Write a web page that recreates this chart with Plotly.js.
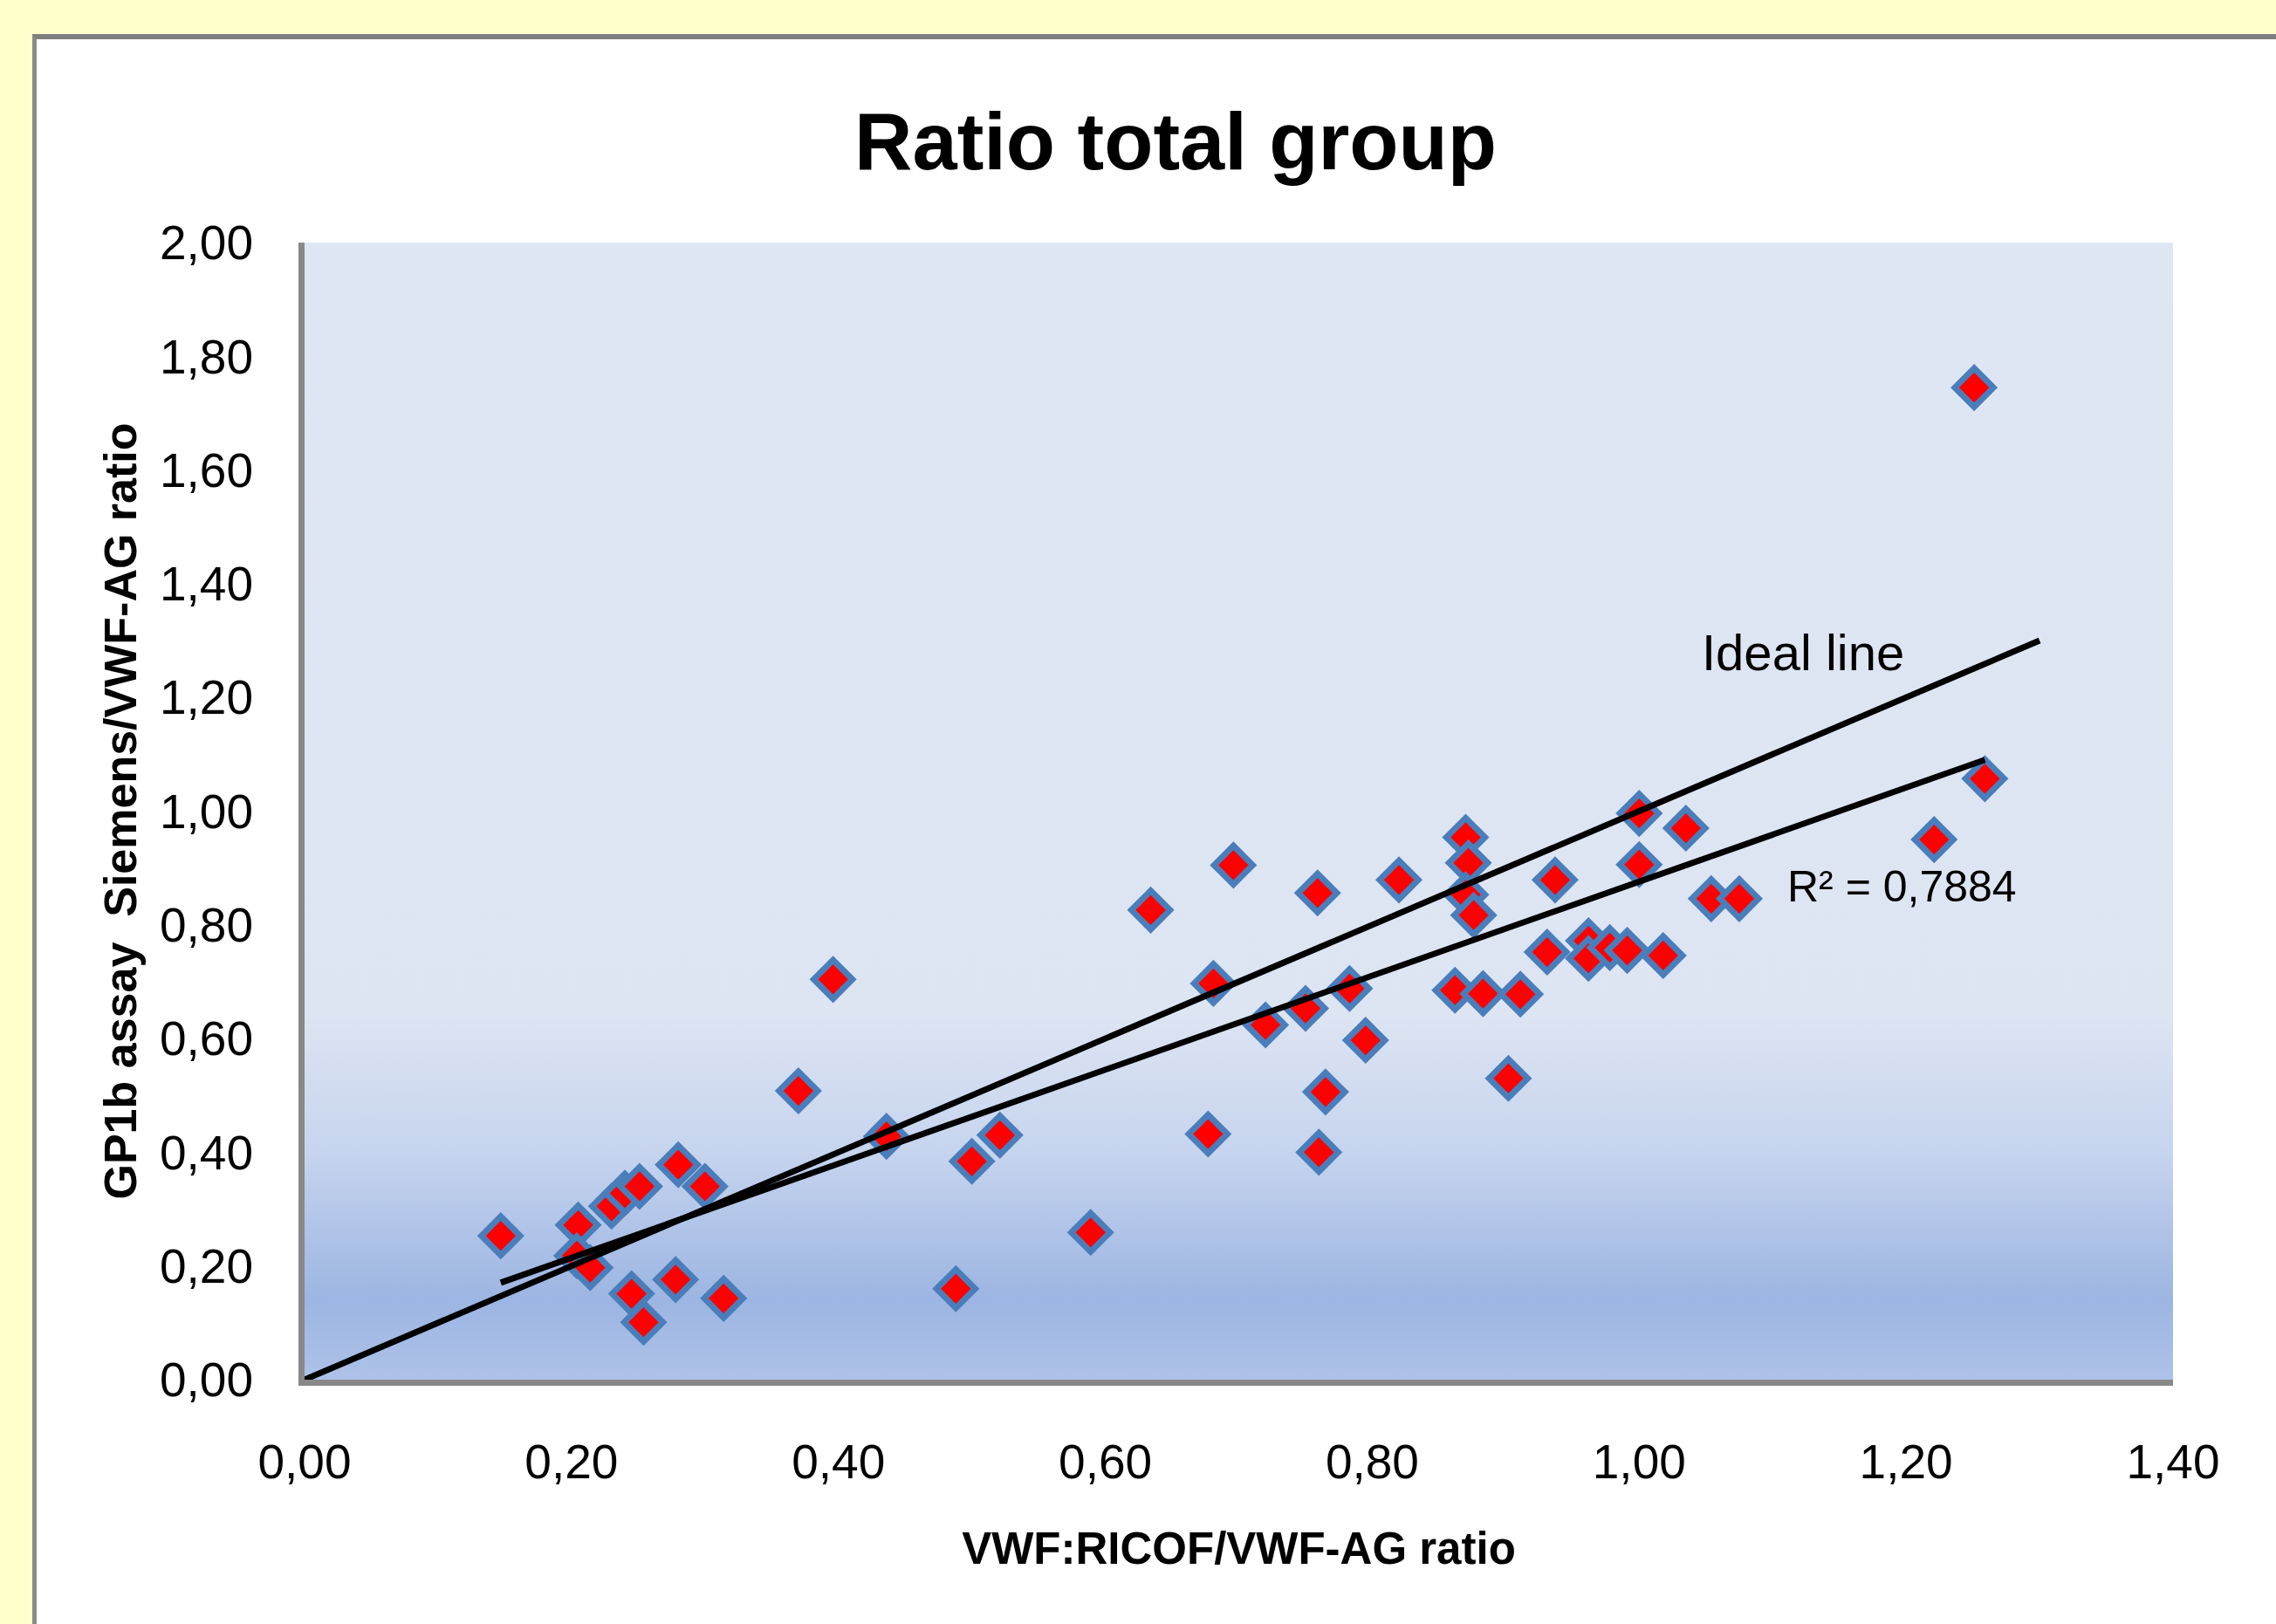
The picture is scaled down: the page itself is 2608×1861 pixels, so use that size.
<!DOCTYPE html>
<html>
<head>
<meta charset="utf-8">
<script src="https://cdn.plot.ly/plotly-3.0.1.min.js"></script>
<style>
  html, body { margin: 0; padding: 0; background: #FFFFCC; width: 2608px; height: 1861px; overflow: hidden; }
  #frame { position: absolute; left: 37px; top: 39px; width: 2566px; height: 1816px; background: #ffffff;
           border-top: 6px solid #7f7f7f; border-left: 5px solid #8a8a8a; }
  #chart { width: 2566px; height: 1816px; }
</style>
</head>
<body>
<div id="frame"><div id="chart"></div></div>
<script>
// ---- Data ----
const ricofRatio = [
  0.147, 0.205, 0.204, 0.214, 0.230, 0.240, 0.251, 0.280, 0.300, 0.245,
  0.254, 0.278, 0.314, 0.370, 0.396, 0.436, 0.488, 0.500, 0.521, 0.589,
  0.634, 0.677, 0.681, 0.696, 0.720, 0.750, 0.759, 0.760, 0.765, 0.783,
  0.795, 0.820, 0.862, 0.870, 0.872, 0.870, 0.876, 0.883, 0.902, 0.911,
  0.931, 0.937, 0.962, 0.962, 0.978, 0.991, 1.000, 1.000, 1.018, 1.035,
  1.054, 1.075, 1.221, 1.251, 1.259
];
const gp1bRatio = [
  0.253, 0.272, 0.218, 0.197, 0.305, 0.328, 0.340, 0.378, 0.340, 0.151,
  0.101, 0.176, 0.143, 0.508, 0.704, 0.428, 0.160, 0.384, 0.430, 0.259,
  0.826, 0.432, 0.697, 0.905, 0.624, 0.653, 0.856, 0.400, 0.506, 0.688,
  0.597, 0.879, 0.685, 0.954, 0.909, 0.853, 0.817, 0.679, 0.530, 0.678,
  0.752, 0.879, 0.772, 0.741, 0.760, 0.755, 0.996, 0.906, 0.746, 0.970,
  0.846, 0.846, 0.950, 1.745, 1.057
];
// Linear trendline as shown in the picture (y = a*x + b), R² label
const trendSlope = 0.827;
const trendIntercept = 0.049;
const rSquaredLabel = "R² = 0,7884";
// Ideal line y = x
const idealLineX = [0, 1.30];
const idealLabel = "Ideal line";
// Axis ticks
const xTickVals = [0, 0.2, 0.4, 0.6, 0.8, 1.0, 1.2, 1.4];
const xTickText = ["0,00", "0,20", "0,40", "0,60", "0,80", "1,00", "1,20", "1,40"];
const yTickVals = [0, 0.2, 0.4, 0.6, 0.8, 1.0, 1.2, 1.4, 1.6, 1.8, 2.0];
const yTickText = ["0,00", "0,20", "0,40", "0,60", "0,80", "1,00", "1,20", "1,40", "1,60", "1,80", "2,00"];
const chartTitle = "Ratio total group";
const xTitle = "VWF:RICOF/VWF-AG ratio";
const yTitle = "GP1b assay  Siemens/VWF-AG ratio";

// ---- Derived traces ----
const xMin = Math.min(...ricofRatio);
const xMax = Math.max(...ricofRatio);
const trendX = [xMin, xMax];
const trendY = trendX.map(v => trendSlope * v + trendIntercept);
const idealY = idealLineX.slice();

const font = "Liberation Sans, Arial, sans-serif";

const traces = [
  {
    x: ricofRatio, y: gp1bRatio, type: "scatter", mode: "markers",
    marker: { symbol: "diamond", size: 34, color: "#FF0000", line: { color: "#4A7EBB", width: 7 } },
    showlegend: false, hoverinfo: "x+y"
  },
  {
    x: trendX, y: trendY, type: "scatter", mode: "lines",
    line: { color: "#000000", width: 7 }, showlegend: false
  },
  {
    x: idealLineX, y: idealY, type: "scatter", mode: "lines",
    line: { color: "#000000", width: 7 }, showlegend: false
  }
];

const gradSvg =
  '<svg xmlns="http://www.w3.org/2000/svg" width="100" height="1000" preserveAspectRatio="none" viewBox="0 0 100 1000">' +
  '<defs><linearGradient id="g" x1="0" y1="0" x2="0" y2="1">' +
  '<stop offset="0" stop-color="#DFE6F3"/>' +
  '<stop offset="0.68" stop-color="#DDE4F2"/>' +
  '<stop offset="0.80" stop-color="#C6D4EE"/>' +
  '<stop offset="0.93" stop-color="#9CB5E2"/>' +
  '<stop offset="1" stop-color="#AEC2E9"/>' +
  '</linearGradient></defs><rect x="0" y="0" width="100" height="1000" fill="url(#g)"/></svg>';
const gradUri = "data:image/svg+xml;charset=utf-8," + encodeURIComponent(gradSvg);

const layout = {
  width: 2566, height: 1816,
  paper_bgcolor: "#FFFFFF",
  plot_bgcolor: "rgba(0,0,0,0)",
  margin: { l: 307, r: 118, t: 233, b: 280, pad: 0 },
  title: {
    text: "<b>" + chartTitle + "</b>",
    font: { family: font, size: 92, color: "#000000" },
    xref: "container", x: 1305 / 2566, xanchor: "center",
    yref: "container", y: 1 - 117 / 1816, yanchor: "middle"
  },
  xaxis: {
    range: [0, 1.4], tickvals: xTickVals, ticktext: xTickText,
    showgrid: false, zeroline: false, showline: true, linecolor: "#888888", linewidth: 7,
    ticks: "", ticklabelstandoff: 40,
    tickfont: { family: font, size: 55, color: "#000000" },
    title: { text: "<b>" + xTitle + "</b>", font: { family: font, size: 51, color: "#000000" }, standoff: 54 },
    fixedrange: true
  },
  yaxis: {
    range: [0, 2], tickvals: yTickVals, ticktext: yTickText,
    showgrid: false, zeroline: false, showline: true, linecolor: "#888888", linewidth: 7,
    ticks: "", ticklabelstandoff: 41,
    tickfont: { family: font, size: 55, color: "#000000" },
    title: { text: "<b>" + yTitle + "</b>", font: { family: font, size: 52, color: "#000000" }, standoff: 12 },
    fixedrange: true
  },
  images: [{
    source: gradUri, xref: "paper", yref: "paper", x: 0, y: 1, sizex: 1, sizey: 1,
    xanchor: "left", yanchor: "top", sizing: "stretch", layer: "below"
  }],
  annotations: [
    { x: 1.123, y: 1.280, xref: "x", yref: "y", text: idealLabel, showarrow: false,
      font: { family: font, size: 58, color: "#000000" }, xanchor: "center", yanchor: "middle" },
    { x: 1.197, y: 0.867, xref: "x", yref: "y", text: rSquaredLabel, showarrow: false,
      font: { family: font, size: 50, color: "#000000" }, xanchor: "center", yanchor: "middle" }
  ]
};

Plotly.newPlot("chart", traces, layout, { displayModeBar: false, staticPlot: true });
</script>
</body>
</html>
